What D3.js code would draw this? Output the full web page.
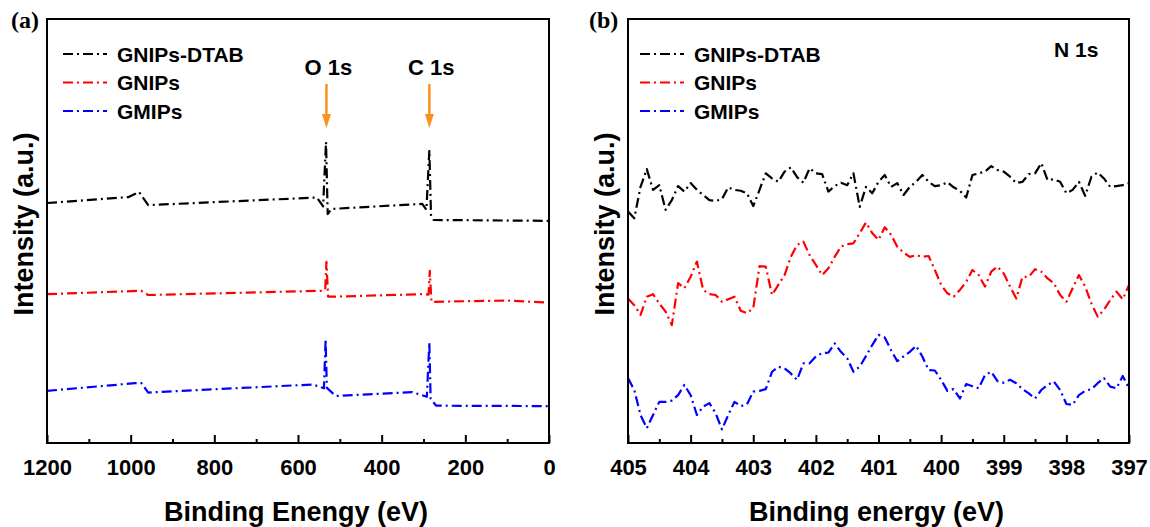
<!DOCTYPE html>
<html>
<head>
<meta charset="utf-8">
<script src="https://cdn.jsdelivr.net/npm/d3@7"></script>
<style>
  body { margin: 0; background: #fff; }
  svg { display: block; }
  text { font-family: "Liberation Sans", Arial, sans-serif; font-weight: bold; fill: #000; }
  .panel-tag { font-family: "Liberation Serif", "Times New Roman", serif; }
</style>
</head>
<body>
<svg id="chart" width="1150" height="527"></svg>
<script>
// ---- Series definitions ----
const seriesNames  = ["GNIPs-DTAB", "GNIPs", "GMIPs"];
const seriesColors = ["#000000", "#ff0000", "#0000ff"];

// ---- (a) XPS survey spectra: binding energy (eV) / intensity (a.u.) ----
const surveyEnergyDTAB    = [1200, 1005, 980, 958, 555, 540, 533, 529, 520, 303, 293, 286, 282, 276, 0];
const surveyIntensityDTAB = [56.6, 58.0, 59.2, 56.1, 57.9, 55.8, 71.0, 54.0, 55.2, 56.4, 55.0, 69.1, 53.5, 52.6, 52.4];

const surveyEnergyGNIP    = [1200, 975, 958, 543, 535, 532, 528, 520, 303, 288, 285, 281, 275, 103, 0];
const surveyIntensityGNIP = [35.1, 35.9, 34.9, 35.9, 36.2, 42.7, 34.5, 34.5, 35.1, 35.0, 40.6, 33.3, 33.3, 33.6, 33.1];

const surveyEnergyGMIP    = [1200, 990, 975, 958, 565, 538, 534, 531, 510, 327, 292, 286, 283, 270, 0];
const surveyIntensityGMIP = [12.3, 14.1, 14.2, 11.9, 13.8, 12.9, 24.5, 13.0, 11.1, 12.0, 10.9, 23.7, 10.5, 8.8, 8.7];

const peakNames    = ["O 1s", "C 1s"];
const peakEnergies = [532, 286];

const surveyTicks = [1200, 1000, 800, 600, 400, 200, 0];
const surveyMinor = [1100, 900, 700, 500, 300, 100];

// ---- (b) N 1s high-resolution spectra, 405 -> 397 eV in 0.1 eV steps ----
const n1sStart = 405.0;
const n1sStep  = 0.1;

const n1sDTAB = [
  54.6, 53.0, 60.4, 64.6, 59.7, 60.8, 55.0, 57.3, 60.6, 59.3,
  61.3, 59.7, 58.5, 57.3, 57.1, 57.5, 60.3, 59.7, 59.5, 58.9,
  55.9, 59.7, 63.6, 62.4, 61.6, 64.0, 65.0, 62.7, 61.4, 64.8,
  63.6, 63.4, 59.3, 60.6, 61.4, 60.8, 63.6, 55.7, 60.4, 58.9,
  61.6, 63.2, 60.4, 61.3, 58.5, 60.4, 61.6, 63.2, 61.6, 60.6,
  60.8, 61.5, 60.3, 59.5, 57.9, 63.2, 63.6, 64.0, 65.3, 64.4,
  64.0, 62.8, 61.3, 61.6, 63.4, 63.6, 66.0, 62.0, 62.2, 61.6,
  58.9, 59.7, 61.6, 58.3, 62.8, 63.8, 62.4, 60.4, 60.6, 60.8,
  61.3
];

const n1sGNIP = [
  34.1, 32.5, 30.2, 34.5, 35.1, 32.9, 31.0, 27.8, 37.7, 36.5,
  39.2, 42.8, 36.1, 35.1, 34.9, 33.3, 33.9, 34.5, 31.2, 30.6,
  31.8, 41.7, 41.6, 34.9, 37.3, 39.6, 43.9, 46.7, 47.5, 44.3,
  42.0, 39.6, 41.2, 43.9, 46.3, 46.9, 47.1, 49.5, 52.0, 49.5,
  47.9, 50.9, 49.1, 46.3, 44.9, 43.9, 44.3, 43.9, 44.1, 40.8,
  37.3, 35.3, 34.5, 36.1, 38.0, 40.8, 39.6, 36.9, 40.4, 41.6,
  40.0, 36.9, 34.1, 39.2, 39.2, 41.0, 40.4, 38.8, 37.7, 34.9,
  33.3, 36.5, 39.6, 36.9, 32.9, 29.8, 31.4, 33.7, 35.7, 33.9,
  37.3
];

const n1sGMIP = [
  15.3, 12.5, 6.6, 3.5, 6.6, 9.7, 9.7, 10.0, 11.3, 13.7,
  11.3, 6.6, 8.6, 9.4, 7.0, 3.2, 6.6, 9.7, 8.7, 9.1,
  12.1, 12.3, 12.7, 16.8, 18.0, 17.6, 16.4, 14.9, 18.8, 18.8,
  20.4, 21.2, 21.3, 23.5, 21.5, 20.0, 16.8, 18.0, 20.5, 23.1,
  25.5, 24.9, 21.9, 19.3, 20.4, 21.5, 22.9, 20.4, 17.2, 17.1,
  14.9, 12.3, 12.7, 10.5, 13.9, 13.4, 12.9, 16.0, 16.8, 14.6,
  14.2, 14.9, 14.1, 12.7, 11.7, 10.5, 12.5, 13.7, 14.5, 12.5,
  9.2, 9.0, 11.3, 12.3, 12.7, 14.1, 15.3, 13.3, 12.9, 15.8,
  12.9
];

const n1sTicks = [405, 404, 403, 402, 401, 400, 399, 398, 397];
const n1sMinor = [404.5, 403.5, 402.5, 401.5, 400.5, 399.5, 398.5, 397.5];

// ---- Layout ----
const svg = d3.select("#chart");
const plotTop = 19, plotBottom = 443;
const dash = "10,4,2,4";

const panels = [
  {
    tag: "(a)", tagX: 11, left: 47, right: 549,
    domain: [1200, 0], ticks: surveyTicks, minor: surveyMinor,
    xTitle: "Binding Enengy (eV)", yTitleX: 23,
    legendX: 63,
    series: [
      surveyEnergyDTAB.map((e, i) => [e, surveyIntensityDTAB[i]]),
      surveyEnergyGNIP.map((e, i) => [e, surveyIntensityGNIP[i]]),
      surveyEnergyGMIP.map((e, i) => [e, surveyIntensityGMIP[i]])
    ]
  },
  {
    tag: "(b)", tagX: 589, left: 628, right: 1129,
    domain: [405, 397], ticks: n1sTicks, minor: n1sMinor,
    xTitle: "Binding energy (eV)", yTitleX: 604,
    legendX: 640,
    series: [n1sDTAB, n1sGNIP, n1sGMIP].map(arr =>
      arr.map((v, i) => [n1sStart - i * n1sStep, v]))
  }
];

panels.forEach(p => {
  const x = d3.scaleLinear().domain(p.domain).range([p.left, p.right]);
  const y = d3.scaleLinear().domain([0, 100]).range([plotBottom, plotTop]);
  const g = svg.append("g");

  // minor ticks (inward)
  g.append("g")
    .attr("transform", `translate(0,${plotBottom})`)
    .call(d3.axisBottom(x).tickValues(p.minor).tickSize(-4).tickFormat(""))
    .call(a => a.select(".domain").remove())
    .call(a => a.selectAll("line").attr("stroke", "#000").attr("stroke-width", 2));

  // major ticks + labels
  g.append("g")
    .attr("transform", `translate(0,${plotBottom})`)
    .call(d3.axisBottom(x).tickValues(p.ticks).tickSize(-8).tickPadding(16).tickFormat(d3.format("d")))
    .call(a => a.select(".domain").remove())
    .call(a => a.selectAll("line").attr("stroke", "#000").attr("stroke-width", 2))
    .call(a => a.selectAll("text")
      .attr("font-size", 22)
      .attr("font-family", "Liberation Sans, Arial, sans-serif")
      .attr("font-weight", "bold")
      .attr("fill", "#000"));

  // spectra
  const line = d3.line().x(d => x(d[0])).y(d => y(d[1]));
  p.series.forEach((s, i) => {
    g.append("path")
      .datum(s)
      .attr("d", line)
      .attr("fill", "none")
      .attr("stroke", seriesColors[i])
      .attr("stroke-width", 2.2)
      .attr("stroke-dasharray", dash)
      .attr("stroke-linejoin", "round");
  });

  // frame
  g.append("rect")
    .attr("x", p.left).attr("y", plotTop)
    .attr("width", p.right - p.left).attr("height", plotBottom - plotTop)
    .attr("fill", "none").attr("stroke", "#000").attr("stroke-width", 2);

  // legend
  seriesNames.forEach((name, i) => {
    const ly = 54 + i * 28.5;
    g.append("line")
      .attr("x1", p.legendX).attr("x2", p.legendX + 44)
      .attr("y1", ly).attr("y2", ly)
      .attr("stroke", seriesColors[i]).attr("stroke-width", 2.2)
      .attr("stroke-dasharray", dash);
    g.append("text")
      .attr("x", p.legendX + 54).attr("y", ly).attr("dy", "0.36em")
      .attr("font-size", 21)
      .text(name);
  });

  // axis titles
  g.append("text")
    .attr("x", (p.left + p.right) / 2 - 2).attr("y", 521)
    .attr("text-anchor", "middle").attr("font-size", 27)
    .text(p.xTitle);
  g.append("text")
    .attr("transform", `translate(${p.yTitleX},${224}) rotate(-90)`)
    .attr("text-anchor", "middle").attr("dy", "0.36em").attr("font-size", 27)
    .text("Intensity (a.u.)");

  // panel tag
  g.append("text")
    .attr("class", "panel-tag")
    .attr("x", p.tagX).attr("y", 28)
    .attr("font-size", 24)
    .text(p.tag);

  // peak annotations on the survey panel
  if (p.tag === "(a)") {
    peakNames.forEach((name, i) => {
      const px = x(peakEnergies[i]);
      g.append("text")
        .attr("x", px + 2).attr("y", 75)
        .attr("text-anchor", "middle").attr("font-size", 22)
        .text(name);
      g.append("line")
        .attr("x1", px).attr("x2", px)
        .attr("y1", 84).attr("y2", 116)
        .attr("stroke", "#f7931e").attr("stroke-width", 2.5);
      g.append("path")
        .attr("d", `M${px - 4.5},${114} L${px + 4.5},${114} L${px},${128} Z`)
        .attr("fill", "#f7931e");
    });
  } else {
    g.append("text")
      .attr("x", 1054).attr("y", 57)
      .attr("font-size", 21)
      .text("N 1s");
  }
});
</script>
</body>
</html>
